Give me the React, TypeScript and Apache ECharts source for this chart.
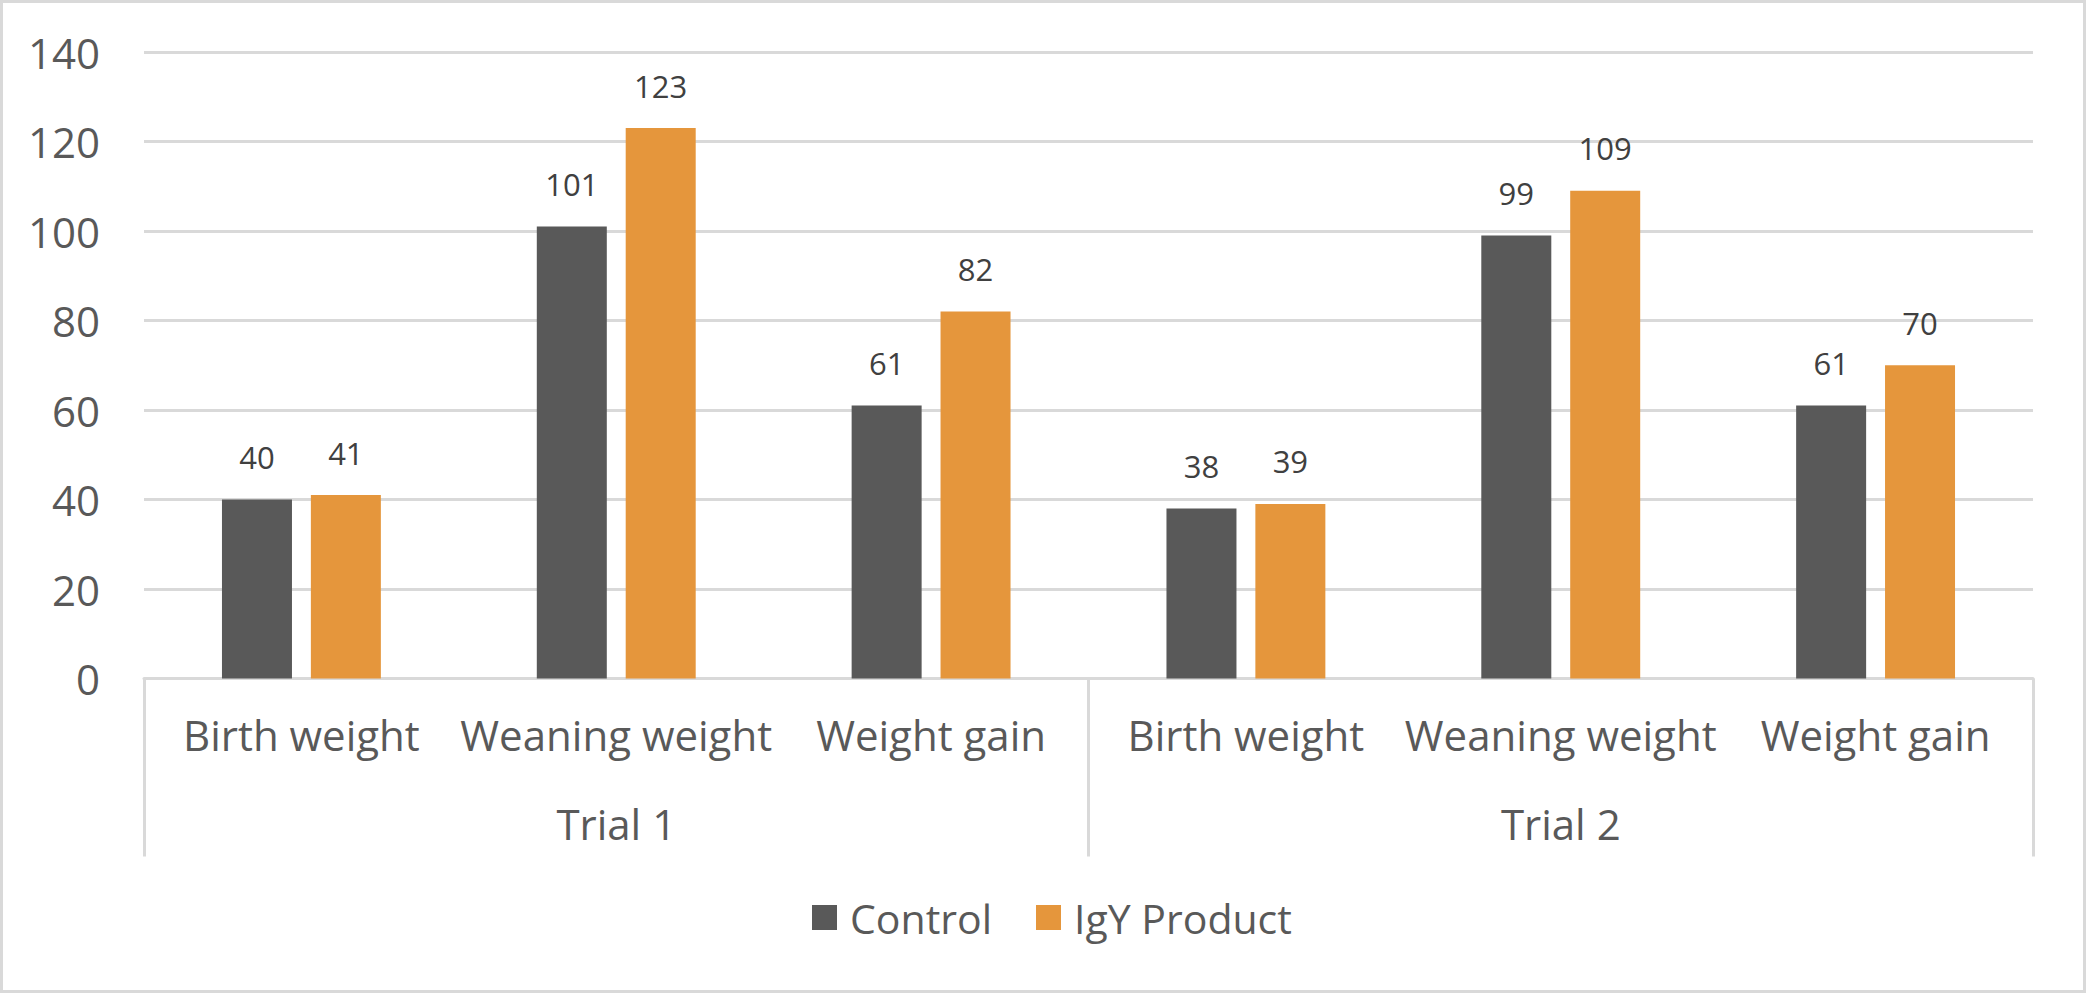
import React, { useEffect, useRef } from "react";
import * as echarts from "echarts";

const categories = ["Birth weight", "Weaning weight", "Weight gain", "Birth weight", "Weaning weight", "Weight gain"];
const groups = ["Trial 1", "Trial 2"];
const controlValues = [40, 101, 61, 38, 99, 61];
const igyValues = [41, 123, 82, 39, 109, 70];
const seriesNames = ["Control", "IgY Product"];

const FONT = "'Open Sans', 'Noto Sans', sans-serif";
const GRAY = "#595959";
const ORANGE = "#E5963C";
const LINE = "#d9d9d9";

export default function App() {
  const ref = useRef<HTMLDivElement>(null);
  useEffect(() => {
    if (!ref.current) return;
    const chart = echarts.init(ref.current, undefined, { renderer: "svg" });
    const labelCfg = {
      show: true,
      position: "top",
      distance: 27,
      fontSize: 31,
      fontFamily: FONT,
      color: "#404040",
    };
    chart.setOption({
      animation: false,
      backgroundColor: "#ffffff",
      textStyle: { fontFamily: FONT },
      grid: { left: 144, right: 53, top: 52, bottom: 314.5, containLabel: false },
      legend: {
        data: seriesNames,
        top: 897,
        left: 812,
        padding: 0,
        icon: "rect",
        itemWidth: 25,
        itemHeight: 25,
        itemGap: 44,
        textStyle: { fontSize: 41, color: GRAY, fontFamily: FONT, padding: [0, 0, 0, 8] },
      },
      xAxis: [
        {
          type: "category",
          data: categories,
          position: "bottom",
          axisLine: { show: true, lineStyle: { color: LINE, width: 3 } },
          axisTick: { show: false },
          axisLabel: { fontSize: 42, color: GRAY, fontFamily: FONT, margin: 35, interval: 0 },
        },
        {
          type: "category",
          data: groups,
          position: "bottom",
          axisLine: { show: false },
          axisTick: { show: true, length: 178, lineStyle: { color: LINE, width: 3 } },
          axisLabel: { fontSize: 42, color: GRAY, fontFamily: FONT, margin: 124, interval: 0 },
        },
      ],
      yAxis: {
        type: "value",
        min: 0,
        max: 140,
        interval: 20,
        axisLine: { show: false },
        axisTick: { show: false },
        splitLine: { lineStyle: { color: LINE, width: 3 } },
        axisLabel: { fontSize: 42, color: GRAY, fontFamily: FONT, margin: 44 },
      },
      series: [
        {
          name: seriesNames[0],
          type: "bar",
          xAxisIndex: 0,
          data: controlValues,
          barWidth: 70,
          barGap: "27%",
          itemStyle: { color: GRAY },
          label: labelCfg,
        },
        {
          name: seriesNames[1],
          type: "bar",
          xAxisIndex: 0,
          data: igyValues,
          barWidth: 70,
          barGap: "27%",
          itemStyle: { color: ORANGE },
          label: labelCfg,
        },
      ],
      graphic: [
        {
          type: "rect",
          shape: { x: 1.5, y: 1.5, width: 2083, height: 990 },
          style: { fill: "none", stroke: LINE, lineWidth: 3 },
          silent: true,
        },
      ],
    });
    return () => chart.dispose();
  }, []);
  return (
    <div
      ref={ref}
      style={{ position: "fixed", left: 0, top: 0, width: 2086, height: 993 }}
    />
  );
}
